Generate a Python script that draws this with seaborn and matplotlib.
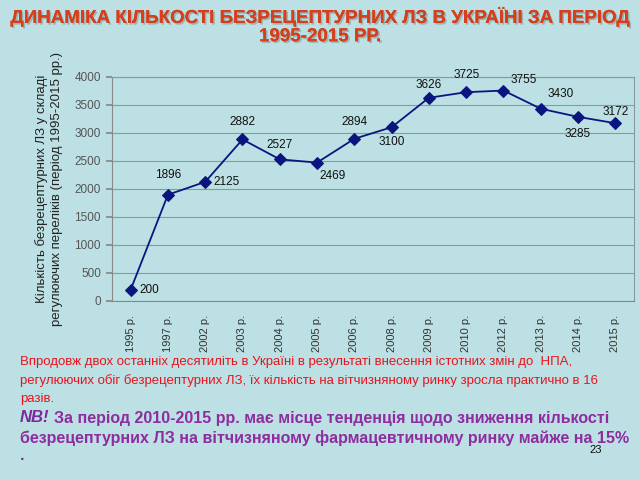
import matplotlib
matplotlib.use("Agg")
import matplotlib.pyplot as plt
import matplotlib.patheffects as pe
import seaborn as sns
import pandas as pd
import numpy as np

years = ["1995 р.", "1997 р.", "2002 р.", "2003 р.", "2004 р.", "2005 р.", "2006 р.",
         "2008 р.", "2009 р.", "2010 р.", "2012 р.", "2013 р.", "2014 р.", "2015 р."]
counts = [200, 1896, 2125, 2882, 2527, 2469, 2894, 3100, 3626, 3725, 3755, 3430, 3285, 3172]
# label offsets (points): dx, dy, ha, va
label_pos = [(6, 0, "left", "center"), (0, 10, "center", "bottom"), (6, 0, "left", "center"),
             (0, 8, "center", "bottom"), (0, 6, "center", "bottom"), (2, -5, "left", "top"),
             (0, 8, "center", "bottom"), (0, -6, "center", "top"), (0, 5, "center", "bottom"),
             (0, 8, "center", "bottom"), (5, 3, "left", "bottom"), (5, 6, "left", "bottom"),
             (0, -8, "center", "top"), (0, 4, "center", "bottom")]

title = "ДИНАМІКА КІЛЬКОСТІ БЕЗРЕЦЕПТУРНИХ ЛЗ В УКРАЇНІ ЗА ПЕРІОД\n1995-2015 РР."
ylabel = "Кількість безрецептурних ЛЗ у складі\nрегулюючих переліків (період 1995-2015 рр.)"
red_text = ["Впродовж двох останніх десятиліть в Україні в результаті внесення істотних змін до  НПА,",
            "регулюючих обіг безрецептурних ЛЗ, їх кількість на вітчизняному ринку зросла практично в 16",
            "разів."]
purple_line1 = "За період 2010-2015 рр. має місце тенденція щодо зниження кількості"
purple_line2 = "безрецептурних ЛЗ на вітчизняному фармацевтичному ринку майже на 15%"

bg = "#BCE0E3"
sns.set_theme(style="white")
plt.rcParams['font.family'] = ['Liberation Sans', 'DejaVu Sans']

df = pd.DataFrame({"year": years, "count": counts})
df["pos"] = np.arange(len(years))

fig = plt.figure(figsize=(6.4, 4.8), dpi=100, facecolor=bg)
ax = fig.add_axes([0.175, 0.373, 0.8156, 0.467])
ax.set_facecolor(bg)

sns.lineplot(data=df, x="pos", y="count", ax=ax, color="#0B1580", linewidth=1.3,
             marker="D", markersize=6.5, markeredgecolor="#0B1580", markerfacecolor="#0B1580")

for i, (v, (dx, dy, ha, va)) in enumerate(zip(counts, label_pos)):
    ax.annotate(str(v), (i, v), xytext=(dx, dy), textcoords="offset points",
                ha=ha, va=va, fontsize=8.5, color="#111111")

ax.set_xlim(-0.5, len(years) - 0.5)
ax.set_ylim(0, 4000)
ax.set_yticks(range(0, 4001, 500))
ax.set_xticks(df["pos"])
ax.set_xticklabels(years, rotation=90, fontsize=8, color="#333333")
ax.tick_params(axis="x", length=0, pad=10)
ax.set_xticks(np.arange(0.5, len(years) - 0.5, 1), minor=True)
ax.tick_params(axis="x", which="minor", length=4, color="#888888", direction="out")
ax.tick_params(axis="y", labelsize=8.5, labelcolor="#555555", length=4, color="#888888",
               direction="out", left=True, pad=4)
ax.yaxis.grid(True, color="#8A9A9C", linewidth=0.8)
ax.set_axisbelow(True)
for s in ["top", "right"]:
    ax.spines[s].set_color("#8A9A9C")
    ax.spines[s].set_linewidth(0.8)
for s in ["left", "bottom"]:
    ax.spines[s].set_color("#888888")
    ax.spines[s].set_linewidth(0.8)
ax.set_xlabel("")
ax.set_ylabel(ylabel, fontsize=9.5, color="#222222", labelpad=8, linespacing=1.35)

fig.text(0.5, 0.985, title, ha="center", va="top", fontsize=13.5, fontweight="bold",
         color="#D63E1C", linespacing=1.1,
         path_effects=[pe.withSimplePatchShadow(offset=(1.2, -1.2), shadow_rgbFace="#7a8a8a", alpha=0.5),
                       pe.Normal()])

y0 = 362
for j, line in enumerate(red_text):
    fig.text(20 / 640, 1 - (y0 + j * 18.5) / 480, line, ha="left", va="center",
             fontsize=9.5, color="#E8141E")

fig.text(20 / 640, 1 - 418 / 480, "NB!", ha="left", va="center", fontsize=12,
         fontweight="bold", style="italic", color="#7B2A9B")
fig.text(54 / 640, 1 - 418 / 480, purple_line1, ha="left", va="center", fontsize=11.5,
         fontweight="bold", color="#8E2CA0")
fig.text(20 / 640, 1 - 438 / 480, purple_line2, ha="left", va="center", fontsize=11.5,
         fontweight="bold", color="#8E2CA0")
fig.text(20 / 640, 1 - 456 / 480, ".", ha="left", va="center", fontsize=11.5,
         fontweight="bold", color="#8E2CA0")
fig.text(596 / 640, 1 - 450 / 480, "23", ha="center", va="center", fontsize=8, color="#111111")

fig.savefig("out.png", dpi=100, facecolor=bg)
